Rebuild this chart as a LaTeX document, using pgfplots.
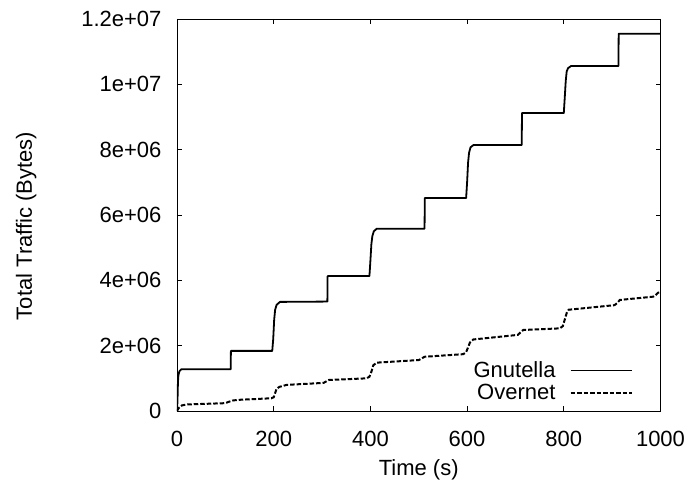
\documentclass[border=0pt]{standalone}
\usepackage{fontspec}
\setmainfont{Liberation Sans}
\usepackage{pgfplots}
\pgfplotsset{compat=1.18}

\pgfplotstableread{
t     b
0     0
1     0.3e6
2     0.9e6
3     1.1e6
5     1.22e6
9     1.28e6
111   1.28e6
111.5 1.84e6
197   1.84e6
199   2.2e6
201   2.8e6
203   3.1e6
206   3.25e6
213   3.34e6
311   3.35e6
311.5 4.13e6
398   4.13e6
400   4.6e6
402   5.1e6
404   5.35e6
407   5.5e6
413   5.58e6
512   5.58e6
512.5 6.52e6
598   6.52e6
600   7.0e6
602   7.6e6
604   7.9e6
607   8.07e6
613   8.14e6
713   8.14e6
713.5 9.12e6
800   9.12e6
802   9.6e6
804   10.1e6
806   10.4e6
809   10.5e6
815   10.56e6
913   10.56e6
913.5 11.55e6
1000  11.55e6
}\gnutella

\pgfplotstableread{
t     b
0     0
3     0.08e6
5     0.11e6
10    0.17e6
20    0.2e6
100   0.24e6
105   0.27e6
115   0.32e6
125   0.34e6
195   0.39e6
200   0.42e6
203   0.55e6
206   0.68e6
212   0.74e6
227   0.80e6
303   0.86e6
308   0.90e6
314   0.95e6
392   1.0e6
398   1.05e6
402   1.2e6
406   1.4e6
413   1.48e6
500   1.56e6
505   1.60e6
512   1.66e6
592   1.74e6
598   1.80e6
602   1.95e6
606   2.10e6
613   2.19e6
705   2.33e6
710   2.40e6
716   2.48e6
792   2.53e6
798   2.60e6
802   2.80e6
806   3.00e6
810   3.10e6
905   3.24e6
910   3.30e6
916   3.40e6
985   3.50e6
990   3.55e6
995   3.62e6
1000  3.64e6
}\overnet

\begin{document}
\begin{tikzpicture}
\begin{axis}[
  scale only axis,
  width=483.5pt,height=392pt,
  xmin=0,xmax=1000,ymin=0,ymax=1.2e7,
  xtick={0,200,400,600,800,1000},
  ytick={0,2e6,4e6,6e6,8e6,1e7,1.2e7},
  yticklabels={0,2e+06,4e+06,6e+06,8e+06,1e+07,1.2e+07},
  scaled y ticks=false,
  /pgf/number format/assume math mode=true,
  /pgf/number format/1000 sep={},
  tick align=inside,
  major tick length=5pt,
  minor tick num=0,
  axis line style={line width=0.8pt},
  every tick/.style={black,line width=0.8pt},
  tick label style={font=\fontsize{22}{26}\selectfont},
  label style={font=\fontsize{22}{26}\selectfont},
  xlabel={Time (s)},
  ylabel={Total Traffic (Bytes)},
  xticklabel style={yshift=-17pt},
  yticklabel style={xshift=-12pt},
  xlabel style={yshift=-6pt},
  ylabel style={yshift=38pt,xshift=-11pt},
  legend plot pos=right,
  legend cell align=right,
  legend image code/.code={\draw[#1] (0pt,0pt) -- (61pt,0pt);},
  legend style={draw=none,fill=none,
    at={(axis description cs:1,0)},anchor=south east,
    xshift=-28pt,yshift=10pt,
    inner sep=0pt,outer sep=0pt,
    row sep=5pt,
    column sep=14pt,
    nodes={inner sep=0pt,font=\fontsize{22}{26}\selectfont}},
]
\addplot[black,line width=1.8pt,line join=round] table[x=t,y=b] {\gnutella};
\addlegendentry{Gnutella}
\addplot[black,line width=2pt,dash pattern=on 4.5pt off 2pt] table[x=t,y=b] {\overnet};
\addlegendentry{Overnet}
\end{axis}
\pgfresetboundingbox
\path (current axis.origin) ++(-177pt,-80pt) rectangle ++(693pt,491pt);
\end{tikzpicture}
\end{document}
